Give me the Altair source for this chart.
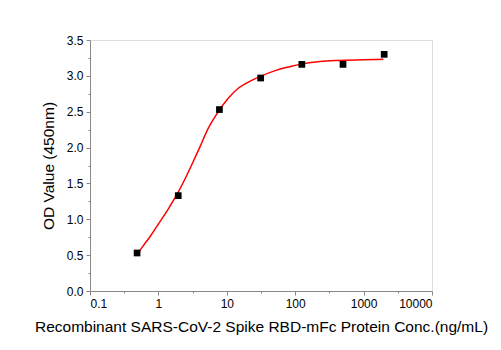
import altair as alt
import pandas as pd

conc = [0.488, 1.95, 7.8, 31.25, 125, 500, 2000]
od = [0.53, 1.33, 2.53, 2.97, 3.16, 3.16, 3.30]

fit_x = [0.471, 0.6, 0.753, 0.95, 1.18, 1.45, 1.85, 2.59, 3.06, 4.05, 5.37, 7.52, 10.5, 14.7, 19.5, 30.5, 53.7, 84, 117, 231, 452, 990, 1940]
fit_y = [0.49, 0.63, 0.757, 0.90, 1.036, 1.17, 1.339, 1.61, 1.757, 2.01, 2.27, 2.50, 2.687, 2.827, 2.90, 2.99, 3.08, 3.128, 3.16, 3.20, 3.215, 3.225, 3.23]

x_major = [0.1, 1, 10, 100, 1000, 10000]
x_minor = [0.316, 3.16, 31.6, 316, 3162]
y_major = [0.0, 0.5, 1.0, 1.5, 2.0, 2.5, 3.0, 3.5]
y_minor = [0.25, 0.75, 1.25, 1.75, 2.25, 2.75, 3.25]

FONT = "Open Sans"

pts = pd.DataFrame({"x": conc, "y": od})
fit = pd.DataFrame({"x": fit_x, "y": fit_y})

xs = alt.Scale(type="log", domain=[0.1, 10000], nice=False)
ys = alt.Scale(domain=[0, 3.5], nice=False, zero=False)

line = alt.Chart(fit).mark_line(color="#ff0000", strokeWidth=1.5, interpolate="monotone").encode(
    x=alt.X("x:Q", scale=xs, axis=alt.Axis(
        values=x_major, format="~g", title="Recombinant SARS-CoV-2 Spike RBD-mFc Protein Conc.(ng/mL)",
        orient="bottom", grid=False, tickSize=4, labelFontSize=12, titleFontSize=15.5,
        titleFontWeight="normal", labelPadding=3, titlePadding=10)),
    y=alt.Y("y:Q", scale=ys, axis=alt.Axis(
        values=y_major, format=".1f", title="OD Value (450nm)", orient="left", grid=False,
        tickSize=4, labelFontSize=12, titleFontSize=15.5, titleFontWeight="normal",
        labelPadding=3, titlePadding=10)),
)

minor = alt.Chart(fit).mark_line(opacity=0).encode(
    x=alt.X("x:Q", scale=xs, axis=alt.Axis(values=x_minor, labels=False, title=None,
        orient="bottom", grid=False, tickSize=2, domain=False)),
    y=alt.Y("y:Q", scale=ys, axis=alt.Axis(values=y_minor, labels=False, title=None,
        orient="left", grid=False, tickSize=2, domain=False)),
)

points = alt.Chart(pts).mark_square(color="black", size=45, opacity=1).encode(
    x=alt.X("x:Q", scale=xs, axis=None),
    y=alt.Y("y:Q", scale=ys, axis=None),
)

chart = alt.layer(minor, line, points).resolve_axis(x="independent", y="independent").properties(
    width=342, height=251,
    autosize=alt.AutoSizeParams(type="none"),
    padding={"left": 90, "top": 40, "right": 69, "bottom": 59},
).configure_view(stroke=None).configure_axis(
    domainColor="black", tickColor="black", labelColor="black", titleColor="black",
    labelFont=FONT, titleFont=FONT, domainWidth=1, tickWidth=1,
).configure(background="white")

chart.save("out.html", embed_options={"renderer": "svg", "actions": False})
